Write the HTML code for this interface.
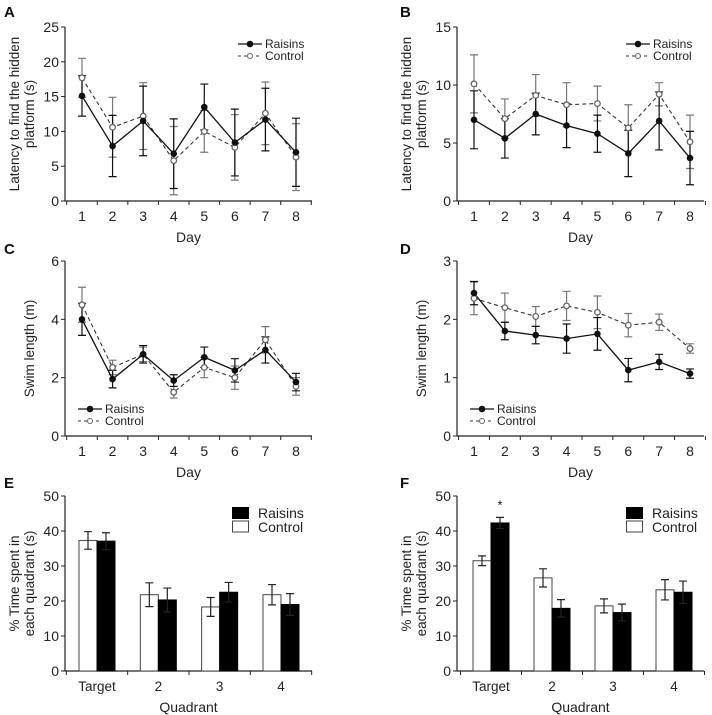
<!DOCTYPE html>
<html><head><meta charset="utf-8"><style>
html,body{margin:0;padding:0;background:#fff;}
svg{display:block;font-family:"Liberation Sans",Arial,sans-serif;}
</style></head><body>
<svg id="fig" width="712" height="715" viewBox="0 0 712 715" xmlns="http://www.w3.org/2000/svg"></svg>
<script>
const days = [1,2,3,4,5,6,7,8];
const quadrants = ["Target","2","3","4"];
const aRaisins = [15.1,7.9,11.5,6.8,13.5,8.4,11.7,7.0];
const aRaisinsErr = [2.9,4.4,5.0,5.0,3.3,4.8,4.5,4.9];
const aControl = [17.7,10.6,12.2,5.8,10.0,7.7,12.6,6.3];
const aControlErr = [2.8,4.3,4.8,4.9,3.0,4.7,4.5,4.8];
const bRaisins = [7.0,5.4,7.5,6.5,5.8,4.1,6.9,3.7];
const bRaisinsErr = [2.5,1.7,1.8,1.9,1.6,2.0,2.5,2.3];
const bControl = [10.1,7.1,9.1,8.3,8.4,6.3,9.2,5.1];
const bControlErr = [2.5,1.7,1.8,1.9,1.5,2.0,1.0,2.3];
const cRaisins = [4.0,1.95,2.8,1.9,2.7,2.25,2.95,1.85];
const cRaisinsErr = [0.55,0.3,0.3,0.2,0.35,0.4,0.45,0.3];
const cControl = [4.5,2.35,2.8,1.5,2.35,2.0,3.3,1.7];
const cControlErr = [0.6,0.25,0.25,0.2,0.35,0.4,0.45,0.3];
const dRaisins = [2.45,1.8,1.73,1.67,1.75,1.13,1.27,1.07];
const dRaisinsErr = [0.2,0.15,0.15,0.25,0.28,0.2,0.13,0.08];
const dControl = [2.36,2.2,2.05,2.23,2.12,1.9,1.95,1.5];
const dControlErr = [0.28,0.25,0.17,0.25,0.28,0.2,0.14,0.08];
const eControl = [37.3,21.8,18.3,21.8];
const eControlErr = [2.5,3.4,2.7,2.9];
const eRaisins = [37.1,20.3,22.5,19.0];
const eRaisinsErr = [2.4,3.4,2.8,3.1];
const fControl = [31.5,26.6,18.6,23.2];
const fControlErr = [1.4,2.6,2.0,2.9];
const fRaisins = [42.3,17.9,16.7,22.5];
const fRaisinsErr = [1.6,2.5,2.4,3.2];
const ticksA = [0,5,10,15,20,25];
const ticksB = [0,5,10,15];
const ticksC = [0,2,4,6];
const ticksD = [0,1,2,3];
const ticksE = [0,10,20,30,40,50];

const svg = document.getElementById('fig');
const NS = 'http://www.w3.org/2000/svg';
function el(tag, attrs, parent, text){
  const e = document.createElementNS(NS, tag);
  for (const k in attrs) e.setAttribute(k, attrs[k]);
  if (text !== undefined) e.textContent = text;
  (parent || svg).appendChild(e);
  return e;
}

function axes(g, o, ticks, labels, isBar){
  const yS = v => o.y0 - (v - 0) / o.ymax * (o.y0 - o.y1);
  let a = el('line',{x1:o.x0,y1:o.y1,x2:o.x0,y2:o.y0,stroke:'#222','stroke-width':1.2},g);
   
  a = el('line',{x1:o.x0,y1:o.y0,x2:o.x2,y2:o.y0,stroke:'#222','stroke-width':1.2},g);
   
  ticks.forEach(t=>{
    const y = yS(t);
    el('line',{x1:o.x0-4,y1:y,x2:o.x0,y2:y,stroke:'#222'},g);
    const tl = el('text',{x:o.x0-6,y:y+5,'text-anchor':'end','font-size':14,fill:'#222'},g,String(t));
     
  });
  const n = labels.length;
  const step = (o.xl - o.xf) / (n-1);
  for (let i=0;i<=n;i++){
    const x = o.xf - step/2 + i*step;
    if (x > o.x0+1) el('line',{x1:x,y1:o.y0,x2:x,y2:o.y0+4,stroke:'#222'},g);
  }
  labels.forEach((l,i)=>{
    const tl = el('text',{x:o.xf+i*step,y:o.y0+20,'text-anchor':'middle','font-size':isBar?13.5:14,fill:'#222'},g,String(l));
     
  });
  const xt = el('text',{x:(o.x0+o.x2)/2,y:o.y0+41,'text-anchor':'middle','font-size':14,fill:'#222'},g,isBar?'Quadrant':'Day');
   
  const cy = (o.y0+o.y1)/2;
  o.ytitle.forEach((t,i)=>{
    const x = o.ytx + i*15;
    const yt = el('text',{x:x,y:cy,'text-anchor':'middle','font-size':13.5,fill:'#222',transform:`rotate(-90 ${x} ${cy})`},g,t);
     
  });
  const pl = el('text',{x:o.lx,y:o.ly,'font-size':15,'font-weight':'bold',fill:'#111'},g,o.letter);
   
  return {yS, step};
}

function linePanel(o, ticks, raisins, rErr, control, cErr){
  const g = el('g',{});
   
  const {yS, step} = axes(g, o, ticks, days, false);
  const xS = i => o.xf + i*step;
  // error bars
  [[control,cErr,'#777'],[raisins,rErr,'#111']].forEach(([v,e,c])=>{
    v.forEach((val,i)=>{
      const x = xS(i), hi = yS(val+e[i]), lo = yS(Math.max(0,val-e[i]));
      const eb = el('path',{d:`M${x},${hi}V${lo}M${x-4},${hi}H${x+4}M${x-4},${lo}H${x+4}`,stroke:c,'stroke-width':1.2,fill:'none'},g);
       
    });
  });
  const pts = arr => arr.map((v,i)=>`${xS(i)},${yS(v)}`).join(' ');
  let l = el('polyline',{points:pts(control),fill:'none',stroke:'#333','stroke-width':1.1,'stroke-dasharray':'4,3'},g);
   
  l = el('polyline',{points:pts(raisins),fill:'none',stroke:'#111','stroke-width':1.3},g);
   
  control.forEach((v,i)=>{
    const c = el('circle',{cx:xS(i),cy:yS(v),r:2.8,fill:'#fff',stroke:'#666','stroke-width':1.3},g);
     
  });
  raisins.forEach((v,i)=>{
    const c = el('circle',{cx:xS(i),cy:yS(v),r:3.3,fill:'#111'},g);
     
  });
  // legend
  const lg = el('g',{},g);
   
  const [lx,ly] = o.leg;
  el('line',{x1:lx,y1:ly,x2:lx+24,y2:ly,stroke:'#111','stroke-width':1.2},lg);
  el('circle',{cx:lx+12,cy:ly,r:3.3,fill:'#111'},lg);
  el('text',{x:lx+27,y:ly+4,'font-size':12,fill:'#222'},lg,'Raisins');
  el('line',{x1:lx,y1:ly+12,x2:lx+24,y2:ly+12,stroke:'#333','stroke-dasharray':'3,3'},lg);
  el('circle',{cx:lx+12,cy:ly+12,r:2.5,fill:'#fff',stroke:'#666'},lg);
  el('text',{x:lx+27,y:ly+16,'font-size':12,fill:'#222'},lg,'Control');
}

function barPanel(o, ticks, control, cErr, raisins, rErr, star){
  const g = el('g',{});
   
  const {yS, step} = axes(g, o, ticks, quadrants, true);
  const bw = 18;
  quadrants.forEach((q,i)=>{
    const cx = o.xf + i*step;
    const drawBar = (v,e,x,fill,stroke,name,ec) => {
      const b = el('rect',{x:x,y:yS(v),width:bw,height:o.y0-yS(v),fill:fill,stroke:stroke,'stroke-width':1},g);
       
      const xm = x+bw/2, hi=yS(v+e), lo=yS(v-e);
      const eb = el('path',{d:`M${xm},${hi}V${lo}M${xm-4},${hi}H${xm+4}M${xm-4},${lo}H${xm+4}`,stroke:ec,'stroke-width':1.2,fill:'none'},g);
       
    };
    drawBar(control[i],cErr[i],cx-bw,'#fff','#444','control-bar','#222');
    drawBar(raisins[i],rErr[i],cx,'#000','#000','raisins-bar','#222');
  });
  if (star){
    const s = el('text',{x:o.xf+bw/2,y:yS(raisins[0]+rErr[0])-8,'text-anchor':'middle','font-size':13,fill:'#111'},g,'*');
     
  }
  const lg = el('g',{},g);
   
  const [lx,ly] = o.leg;
  el('rect',{x:lx,y:ly-6,width:17,height:12,fill:'#000'},lg);
  el('text',{x:lx+26,y:ly+5,'font-size':14,fill:'#222'},lg,'Raisins');
  el('rect',{x:lx+0.5,y:ly+8,width:16,height:11,fill:'#fff',stroke:'#444'},lg);
  el('text',{x:lx+26,y:ly+19,'font-size':14,fill:'#222'},lg,'Control');
}

linePanel({letter:'A',lx:4,ly:17,x0:65,x2:312,y0:201,y1:27,ymax:25,xf:82,xl:296,ytx:19,ytitle:['Latency to find the hidden','platform (s)'],leg:[238,44]}, ticksA, aRaisins, aRaisinsErr, aControl, aControlErr);
linePanel({letter:'B',lx:400,ly:17,x0:457,x2:704,y0:201,y1:27,ymax:15,xf:474,xl:690,ytx:411,ytitle:['Latency to find the hidden','platform (s)'],leg:[626,44]}, ticksB, bRaisins, bRaisinsErr, bControl, bControlErr);
linePanel({letter:'C',lx:4,ly:254,x0:65,x2:312,y0:436,y1:261,ymax:6,xf:82,xl:296,ytx:34,ytitle:['Swim length (m)'],leg:[78,409]}, ticksC, cRaisins, cRaisinsErr, cControl, cControlErr);
linePanel({letter:'D',lx:400,ly:254,x0:457,x2:704,y0:436,y1:261,ymax:3,xf:474,xl:690,ytx:426,ytitle:['Swim length (m)'],leg:[470,409]}, ticksD, dRaisins, dRaisinsErr, dControl, dControlErr);
barPanel({letter:'E',lx:4,ly:488,x0:65,x2:312,y0:671,y1:496,ymax:50,xf:97,xl:281,ytx:19,ytitle:['% Time spent in','each quadrant (s)'],leg:[232,513]}, ticksE, eControl, eControlErr, eRaisins, eRaisinsErr, false);
barPanel({letter:'F',lx:400,ly:488,x0:457,x2:704,y0:671,y1:496,ymax:50,xf:491,xl:674,ytx:411,ytitle:['% Time spent in','each quadrant (s)'],leg:[626,513]}, ticksE, fControl, fControlErr, fRaisins, fRaisinsErr, true);
</script>
</body></html>
